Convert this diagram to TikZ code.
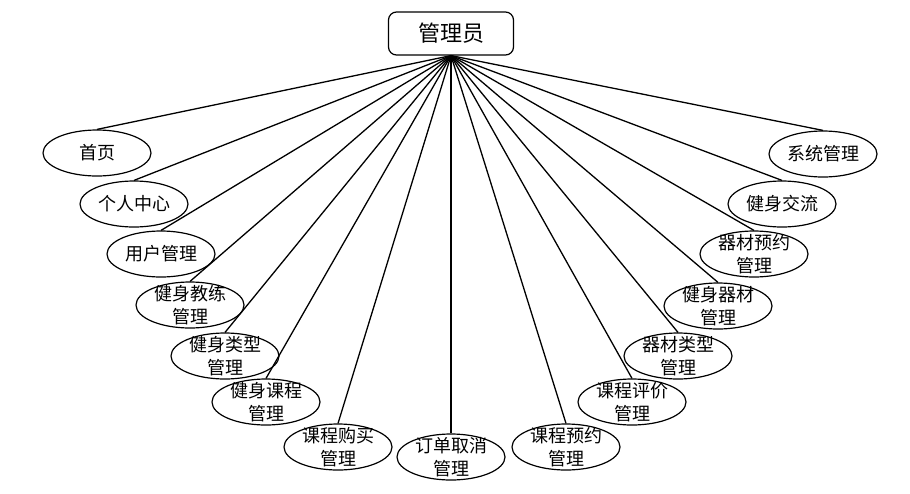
\documentclass[tikz,border=0pt]{standalone}
\usepackage{fontspec}
\setmainfont{Noto Sans CJK SC}
\usetikzlibrary{shapes.geometric}
\begin{document}
\begin{tikzpicture}[x=1pt,y=-1pt,
  ell/.style={ellipse,draw,line width=1.2pt,minimum width=108pt,minimum height=46pt,inner sep=0pt},
  lbl/.style={font=\fontsize{18}{22.5}\selectfont,align=center,inner sep=0pt},
  link/.style={line width=1.3pt},
  topbox/.style={draw,rounded corners=8pt,line width=1.2pt,minimum width=125pt,minimum height=43pt,inner sep=0pt,font=\fontsize{22}{24}\selectfont}]
\useasboundingbox (0,0) rectangle (910,493);
\node[topbox] (admin) at (451,33.5) {管理员};
\foreach \n/\x/\y/\t in {
  e1/97/153/首页,
  e2/134/204/个人中心,
  e3/161/254/用户管理,
  e4/190/305/健身教练\\管理,
  e5/225/356/健身类型\\管理,
  e6/266/402/健身课程\\管理,
  e7/338/447/课程购买\\管理,
  e8/451/457/订单取消\\管理,
  e9/566/447/课程预约\\管理,
  e10/632/402/课程评价\\管理,
  e11/678/356/器材类型\\管理,
  e12/718/306/健身器材\\管理,
  e13/754/254/器材预约\\管理,
  e14/782/204/健身交流,
  e15/823/154/系统管理}{
  \node[ell] (\n) at (\x,\y) {};
  \node[lbl] (t\n) at (\x,\y) {\t};
}
\foreach \n in {e1,e2,e3,e4,e5,e6,e7,e8,e9,e10,e11,e12,e13,e14,e15}{
  \draw[link] (admin.south) -- (\n.north);
}
\end{tikzpicture}
\end{document}
